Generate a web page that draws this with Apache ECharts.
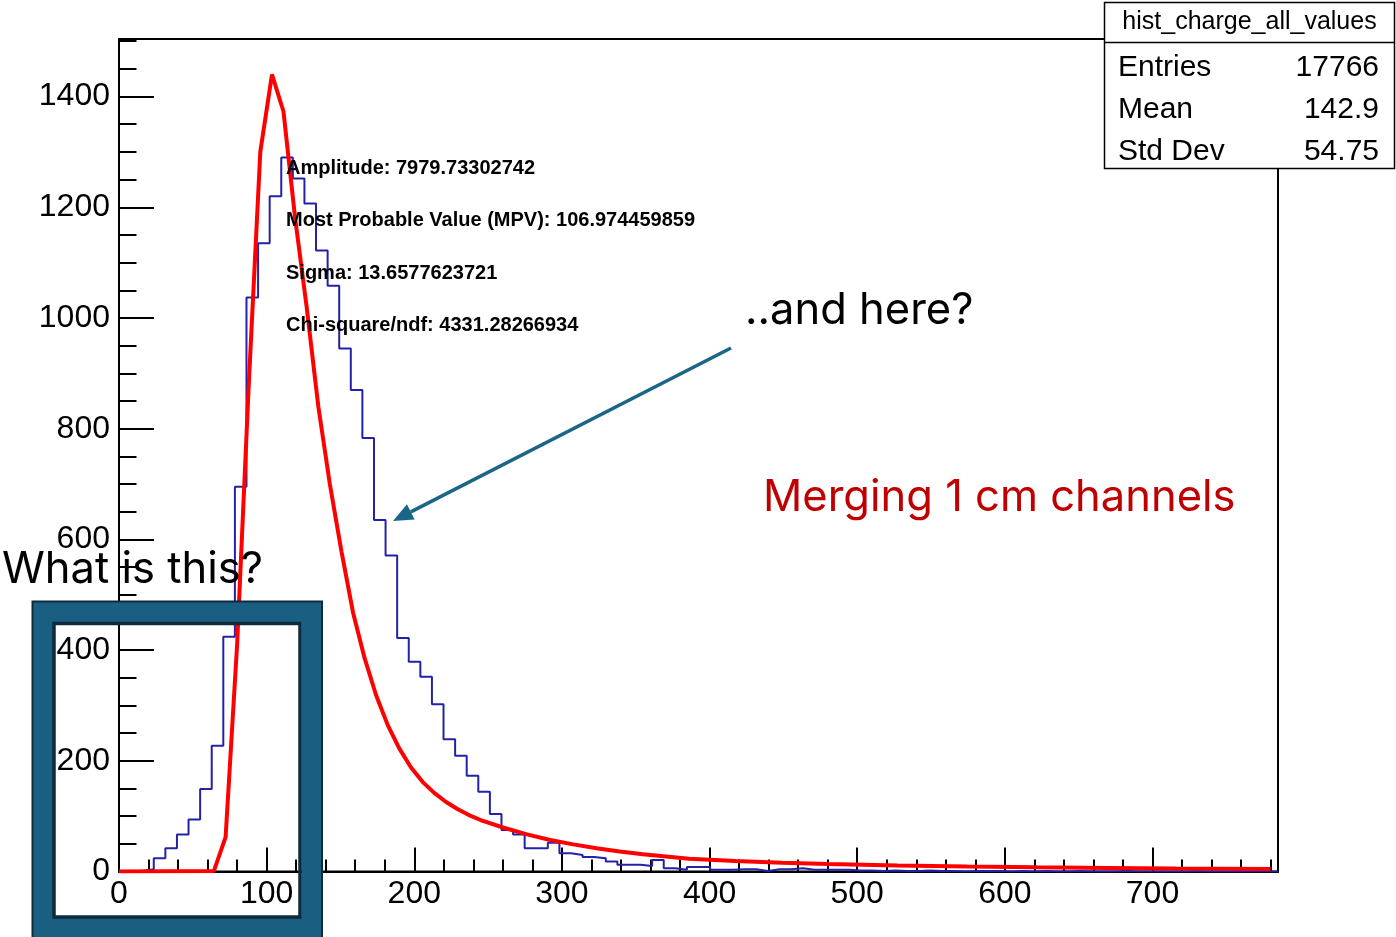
<!DOCTYPE html>
<html><head><meta charset="utf-8">
<script src="https://cdn.jsdelivr.net/npm/echarts@6/dist/echarts.min.js"></script>
<style>html,body{margin:0;padding:0;background:#fff}#c{width:1396px;height:937px}</style>
</head><body><div id="c"></div>
<script>
// ---- data ----
const xMin = 0, xMax = 785, binWidth = 7.85;
const yMin = 0, yMax = 1504;
const histCounts = [
  0, 1, 4, 24, 42, 67, 94, 149, 227, 424,
  695, 1037, 1135, 1220, 1290, 1252, 1207, 1122, 1058, 945,
  870, 783, 635, 571, 422, 379, 352, 302, 239, 209,
  173, 144, 104, 75, 67, 42, 42, 52, 33, 30,
  26, 24, 18, 12, 12, 10, 21, 6, 3, 8,
  8, 3, 3, 4, 4, 1, 4, 4, 6, 3,
  3, 3, 3, 2, 2, 1, 2, 1, 1, 2,
  1, 1, 0, 1, 1, 1, 0, 1, 0, 1,
  0, 0, 1, 0, 0, 0, 1, 0, 0, 0,
  0, 0, 1, 0, 0, 0, 0, 0, 0, 0
];
const fitX = [0, 64.3, 72.2, 80.0, 87.9, 95.7, 103.6, 111.4, 119.3, 127.1, 135.0, 142.8, 150.7, 158.5, 166.4, 174.2, 182.1, 189.9, 197.8, 205.6, 213.5, 221.3, 229.2, 237.0, 244.9, 260.6, 276.3, 292.0, 307.7, 323.4, 339.1, 354.8, 370.5, 386.2, 417.6, 449.0, 480.4, 527.5, 574.6, 621.7, 668.8, 715.9, 780];
const fitY = [0, 1, 62, 410, 880, 1300, 1440, 1373, 1180, 1020, 840, 700, 578, 468, 385, 318, 264, 222, 188, 162, 142, 126, 113, 102, 93, 79, 67, 57, 49, 42, 36, 31, 27, 23, 19, 16, 13.5, 11, 9, 7.5, 6.5, 5.5, 4.5];
const xTickLabels = [0, 100, 200, 300, 400, 500, 600, 700];
const yTickLabels = [0, 200, 400, 600, 800, 1000, 1200, 1400];
const statsTitle = 'hist_charge_all_values';
const statsNames = ['Entries', 'Mean', 'Std Dev'];
const statsValues = ['17766', '142.9', '54.75'];
const fitLabels = ['Amplitude: 7979.73302742', 'Most Probable Value (MPV): 106.974459859', 'Sigma: 13.6577623721', 'Chi-square/ndf: 4331.28266934'];
const noteQuestion1 = 'What is this?';
const noteQuestion2 = '..and here?';
const noteTitle = 'Merging 1 cm channels';

// ---- build ----
const histPts = [];
histCounts.forEach((c, i) => { histPts.push([xMin + i * binWidth, c], [xMin + (i + 1) * binWidth, c]); });
const fitPts = fitX.map((x, i) => [x, fitY[i]]);

const ROOTFONT = '"Liberation Sans", Arial, Helvetica, sans-serif';
const PPTFONT = 'Inter, Lato, sans-serif';

function axisPair(isX) {
  const min = isX ? xMin : yMin, max = isX ? xMax : yMax;
  const labels = isX ? xTickLabels : yTickLabels;
  return [
    {
      type: 'value', min, max, interval: isX ? 100 : 200,
      position: isX ? 'bottom' : 'left',
      axisLine: { show: true, onZero: false, lineStyle: { color: '#000', width: 2 } },
      axisTick: { show: true, inside: true, length: isX ? 24 : 35, lineStyle: { color: '#000', width: 2 } },
      axisLabel: {
        show: true, color: '#000', fontFamily: ROOTFONT, fontSize: 32, margin: isX ? 7 : 9,
        padding: isX ? 0 : [4, 0, 0, 0],
        showMaxLabel: false,
        formatter: v => labels.indexOf(v) >= 0 ? String(v) : ''
      },
      splitLine: { show: false }
    },
    {
      type: 'value', min, max, interval: isX ? 20 : 50,
      position: isX ? 'bottom' : 'left',
      axisLine: { show: false },
      axisTick: { show: true, inside: true, length: isX ? 12 : 17.5, lineStyle: { color: '#000', width: 2 } },
      axisLabel: { show: false },
      splitLine: { show: false }
    }
  ];
}

// arrow geometry
const arrowFrom = [731, 348], arrowTo = [393, 521];
const adx = arrowTo[0] - arrowFrom[0], ady = arrowTo[1] - arrowFrom[1];
const alen = Math.hypot(adx, ady), ux = adx / alen, uy = ady / alen;
const headL = 20, headW = 8.5;
const bx = arrowTo[0] - ux * headL, by = arrowTo[1] - uy * headL;

const FRAME = '#1a5f82', FRAME_DARK = '#0c2c3d';

const graphic = [];
fitLabels.forEach((t, i) => {
  graphic.push({ type: 'text', x: 286, y: 168 + 52.5 * i, z: 50,
    style: { text: t, fill: '#000', font: 'bold 20px ' + ROOTFONT, align: 'left', verticalAlign: 'middle', textAlign: 'left', textVerticalAlign: 'middle' } });
});
// stats box
graphic.push({ type: 'rect', z: 60, shape: { x: 1104.5, y: 2.5, width: 290, height: 166 }, style: { fill: '#fff', stroke: '#000', lineWidth: 1.5 } });
graphic.push({ type: 'line', z: 61, shape: { x1: 1104.5, y1: 42.5, x2: 1394.5, y2: 42.5 }, style: { stroke: '#000', lineWidth: 1.5 } });
graphic.push({ type: 'text', z: 62, x: 1249.5, y: 22.5, style: { text: statsTitle, fill: '#000', font: '25px ' + ROOTFONT, align: 'center', verticalAlign: 'middle', textAlign: 'center', textVerticalAlign: 'middle' } });
const rowY = [68, 110, 151.5];
statsNames.forEach((n, i) => {
  graphic.push({ type: 'text', z: 62, x: 1118, y: rowY[i], style: { text: n, fill: '#000', font: '30px ' + ROOTFONT, align: 'left', verticalAlign: 'middle', textAlign: 'left', textVerticalAlign: 'middle' } });
  graphic.push({ type: 'text', z: 62, x: 1379, y: rowY[i], style: { text: statsValues[i], fill: '#000', font: '30px ' + ROOTFONT, align: 'right', verticalAlign: 'middle', textAlign: 'right', textVerticalAlign: 'middle' } });
});
// notes
graphic.push({ type: 'text', z: 70, x: 2, y: 570, style: { text: noteQuestion1, fill: '#000', font: '43.5px ' + PPTFONT, align: 'left', verticalAlign: 'middle', textAlign: 'left', textVerticalAlign: 'middle' } });
graphic.push({ type: 'text', z: 70, x: 745, y: 311, style: { text: noteQuestion2, fill: '#000', font: '43.5px ' + PPTFONT, align: 'left', verticalAlign: 'middle', textAlign: 'left', textVerticalAlign: 'middle' } });
graphic.push({ type: 'text', z: 70, x: 763, y: 498, style: { text: noteTitle, fill: '#c00000', font: '43.5px ' + PPTFONT, align: 'left', verticalAlign: 'middle', textAlign: 'left', textVerticalAlign: 'middle' } });
// arrow
graphic.push({ type: 'line', z: 70, shape: { x1: arrowFrom[0], y1: arrowFrom[1], x2: bx, y2: by }, style: { stroke: '#1b6688', lineWidth: 3.5 } });
graphic.push({ type: 'polygon', z: 70, shape: { points: [arrowTo, [bx - uy * headW, by + ux * headW], [bx + uy * headW, by - ux * headW]] }, style: { fill: '#1b6688' } });
// inset frame
graphic.push({ type: 'rect', z: 80, shape: { x: 42.5, y: 611.5, width: 269.5, height: 316 }, style: { fill: 'none', stroke: FRAME, lineWidth: 21 } });
graphic.push({ type: 'rect', z: 81, shape: { x: 32.5, y: 601.5, width: 289.5, height: 340 }, style: { fill: 'none', stroke: FRAME_DARK, lineWidth: 2 } });
graphic.push({ type: 'rect', z: 81, shape: { x: 54, y: 623.5, width: 246, height: 293.5 }, style: { fill: 'none', stroke: FRAME_DARK, lineWidth: 3.5 } });

const chart = echarts.init(document.getElementById('c'), null, { renderer: 'canvas' });
const xs = axisPair(true), ys = axisPair(false);
chart.setOption({
  animation: false,
  backgroundColor: '#fff',
  grid: { left: 119, top: 39, right: 118, bottom: 65.5, show: true, borderColor: '#000', borderWidth: 2, backgroundColor: 'transparent' },
  xAxis: xs,
  yAxis: ys,
  series: [
    { type: 'line', name: 'hist', xAxisIndex: 0, yAxisIndex: 0, data: histPts, showSymbol: false, symbol: 'none', clip: true,
      lineStyle: { color: '#2222a8', width: 2 }, z: 3 },
    { type: 'line', name: 'fit', xAxisIndex: 0, yAxisIndex: 0, data: fitPts, showSymbol: false, symbol: 'none', clip: true,
      lineStyle: { color: '#ff0000', width: 4 }, z: 4 }
  ],
  graphic
});
</script></body></html>
